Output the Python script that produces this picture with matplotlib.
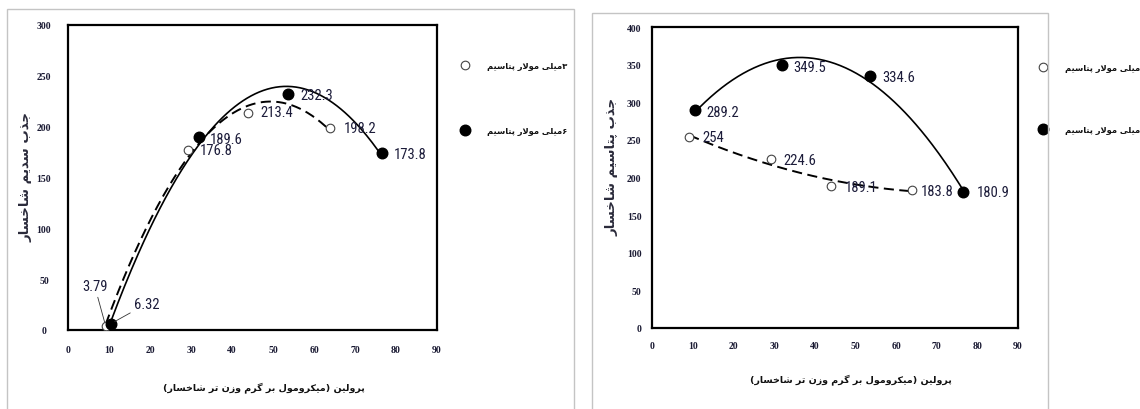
import numpy as np
import matplotlib
matplotlib.use("Agg")
import matplotlib.pyplot as plt
from matplotlib.lines import Line2D
from matplotlib.patches import Rectangle
from matplotlib import font_manager

# ---------------- data ----------------
proline_3mM = [9.2, 29.2, 44.0, 63.9]
proline_6mM = [10.5, 31.9, 53.6, 76.5]

sodium_3mM = [3.79, 176.8, 213.4, 198.2]
sodium_6mM = [6.32, 189.6, 232.3, 173.8]

potassium_3mM = [254, 224.6, 189.1, 183.8]
potassium_6mM = [289.2, 349.5, 334.6, 180.9]

x_ticks = [0, 10, 20, 30, 40, 50, 60, 70, 80, 90]
y_ticks_left = [0, 50, 100, 150, 200, 250, 300]
y_ticks_right = [0, 50, 100, 150, 200, 250, 300, 350, 400]

label_3mM = "۳میلی مولار پتاسیم"
label_6mM = "۶میلی مولار پتاسیم"
xlabel_text = "پرولین (میکرومول بر گرم وزن تر شاخسار)"
ylabel_left = "جذب سدیم شاخسار"
ylabel_right = "جذب پتاسیم شاخسار"

# ---------------- simple Persian shaping (matplotlib has no shaping) -------------
FORMS = {
    'ا': ('\uFE8D', '\uFE8E', None, None),
    'ب': ('\uFE8F', '\uFE90', '\uFE91', '\uFE92'),
    'پ': ('\uFB56', '\uFB57', '\uFB58', '\uFB59'),
    'ت': ('\uFE95', '\uFE96', '\uFE97', '\uFE98'),
    'ج': ('\uFE9D', '\uFE9E', '\uFE9F', '\uFEA0'),
    'خ': ('\uFEA5', '\uFEA6', '\uFEA7', '\uFEA8'),
    'د': ('\uFEA9', '\uFEAA', None, None),
    'ذ': ('\uFEAB', '\uFEAC', None, None),
    'ر': ('\uFEAD', '\uFEAE', None, None),
    'ز': ('\uFEAF', '\uFEB0', None, None),
    'س': ('\uFEB1', '\uFEB2', '\uFEB3', '\uFEB4'),
    'ش': ('\uFEB5', '\uFEB6', '\uFEB7', '\uFEB8'),
    'ل': ('\uFEDD', '\uFEDE', '\uFEDF', '\uFEE0'),
    'م': ('\uFEE1', '\uFEE2', '\uFEE3', '\uFEE4'),
    'ن': ('\uFEE5', '\uFEE6', '\uFEE7', '\uFEE8'),
    'و': ('\uFEED', '\uFEEE', None, None),
    'ه': ('\uFEE9', '\uFEEA', '\uFEEB', '\uFEEC'),
    'ی': ('\uFBFC', '\uFBFD', '\uFBFE', '\uFBFF'),
    'ک': ('\uFB8E', '\uFB8F', '\uFB90', '\uFB91'),
    'گ': ('\uFB92', '\uFB93', '\uFB94', '\uFB95'),
}
MIRROR = {'(': ')', ')': '('}


def shape_fa(text):
    out = []
    n = len(text)
    i = 0
    while i < n:
        c = text[i]
        if c not in FORMS:
            out.append(MIRROR.get(c, c))
            i += 1
            continue
        prev = text[i - 1] if i > 0 else ''
        prev_join = prev in FORMS and FORMS[prev][2] is not None
        if c == 'ل' and i + 1 < n and text[i + 1] == 'ا':
            out.append('\uFEFC' if prev_join else '\uFEFB')
            i += 2
            continue
        nxt = text[i + 1] if i + 1 < n else ''
        next_join = nxt in FORMS and FORMS[c][2] is not None
        iso, fin, ini, med = FORMS[c]
        if prev_join and next_join:
            out.append(med)
        elif prev_join:
            out.append(fin)
        elif next_join:
            out.append(ini)
        else:
            out.append(iso)
        i += 1
    return ''.join(reversed(out))


# ---------------- style ----------------
avail = {f.name for f in font_manager.fontManager.ttflist}
num_font, num_size = "DejaVu Sans", 9.5
for cand, sz in (("Liberation Sans Narrow", 11), ("Roboto Condensed", 10.5), ("Lato", 10)):
    if cand in avail:
        num_font, num_size = cand, sz
        break
tick_font = "Liberation Serif" if "Liberation Serif" in avail else "DejaVu Serif"
fa_font = ["DejaVu Sans"]

TXT = "#1c1c3a"
TICK = "#1a1a33"

fig = plt.figure(figsize=(11.4, 4.1), dpi=100)
fig.patch.set_facecolor("white")

# panel frames (gray boxes)
fig.add_artist(Rectangle((6.5 / 1140, -0.1), (574 - 6.5) / 1140, 1.1 - 10 / 410,
                         transform=fig.transFigure, fill=False, ec="#c4c4c4", lw=1.0))
fig.add_artist(Rectangle((592 / 1140, -0.1), 0.4, 1.1 - 14 / 410,
                         transform=fig.transFigure, fill=False, ec="#c4c4c4", lw=1.0))

axL = fig.add_axes([68 / 1140, (410 - 331) / 410, 369 / 1140, 305 / 410])
axR = fig.add_axes([652 / 1140, (410 - 329) / 410, 366 / 1140, 301 / 410])

left_offsets_3 = [(-11, 40), (29, 0), (28, 1), (30, 0)]
left_offsets_6 = [(36, 20), (27, -2), (29, -1), (29, -1)]
right_offsets_3 = [(24, 0), (29, -1), (30, -1), (25, -1)]
right_offsets_6 = [(28, -2), (28, -2), (29, -1), (30, 0)]


def draw_panel(ax, y3, y6, ymax, yticks, off3, off6, leaders, ylab, ylab_pos, xlab_pos,
               ytick_pad, ytick_ha, xtick_pad):
    x3 = np.array(proline_3mM)
    x6 = np.array(proline_6mM)
    # polynomial (order 2) trend lines
    c3 = np.polyfit(x3, y3, 2)
    c6 = np.polyfit(x6, y6, 2)
    xs3 = np.linspace(x3.min(), x3.max(), 200)
    xs6 = np.linspace(x6.min(), x6.max(), 200)
    ax.plot(xs3, np.polyval(c3, xs3), color="black", lw=1.4, ls=(0, (5.2, 2.8)), zorder=2)
    ax.plot(xs6, np.polyval(c6, xs6), color="black", lw=1.2, ls="-", zorder=2)

    ax.plot(x3, y3, ls="none", marker="o", ms=6.2, mfc="white", mec="#444444", mew=0.8, zorder=3)
    ax.plot(x6, y6, ls="none", marker="o", ms=7.6, mfc="black", mec="black", zorder=4)

    for xs, ys, offs, leads in ((x3, y3, off3, leaders[0]), (x6, y6, off6, leaders[1])):
        for xv, yv, off, lead in zip(xs, ys, offs, leads):
            kw = {}
            if lead:
                kw["arrowprops"] = dict(arrowstyle="-", lw=0.6, color="#333333",
                                        shrinkA=1, shrinkB=3)
            ax.annotate(f"{yv:g}", (xv, yv), xytext=off, textcoords="offset pixels",
                        ha="center", va="center", fontsize=num_size, family=num_font,
                        color=TXT, zorder=5, **kw)

    ax.set_xlim(0, 90)
    ax.set_ylim(0, ymax)
    ax.set_xticks(x_ticks)
    ax.set_yticks(yticks)
    ax.tick_params(length=0, labelsize=7, labelcolor=TICK)
    ax.tick_params(axis="y", pad=ytick_pad)
    ax.tick_params(axis="x", pad=xtick_pad)
    for t in ax.get_xticklabels() + ax.get_yticklabels():
        t.set_family(tick_font)
        t.set_fontweight("bold")
    for t in ax.get_yticklabels():
        t.set_ha(ytick_ha)
    for s in ax.spines.values():
        s.set_linewidth(1.6)
        s.set_color("black")

    ax.text(ylab_pos[0], ylab_pos[1], shape_fa(ylab), transform=ax.transAxes, rotation=90,
            ha="center", va="center", fontsize=9.5, family=fa_font, fontweight="bold",
            color="#2a2a3a")
    ax.text(xlab_pos[0], xlab_pos[1], shape_fa(xlabel_text), transform=ax.transAxes,
            ha="center", va="center", fontsize=6.8, family=fa_font, fontweight="bold",
            color="#111111")


draw_panel(axL, sodium_3mM, sodium_6mM, 300, y_ticks_left, left_offsets_3, left_offsets_6,
           ([True, False, False, False], [True, False, False, False]),
           ylabel_left, (-0.115, 0.505), (0.532, -0.184), 17.3, "center", 11)
draw_panel(axR, potassium_3mM, potassium_6mM, 400, y_ticks_right, right_offsets_3, right_offsets_6,
           ([False] * 4, [False] * 4),
           ylabel_right, (-0.109, 0.538), (0.544, -0.169), 7.5, "right", 9.5)

# legends
handles = [Line2D([], [], ls="none", marker="o", ms=6.2, mfc="white", mec="#444444", mew=0.8),
           Line2D([], [], ls="none", marker="o", ms=7.6, mfc="black", mec="black")]
labels = [shape_fa(label_3mM), shape_fa(label_6mM)]
for ax, (lx, ly, sp) in ((axL, (461, 62, 6.75)), (axR, (1039, 64, 6.4))):
    leg = ax.legend(handles, labels, loc="upper left",
                    bbox_to_anchor=(lx / 1140, 1 - ly / 410), bbox_transform=fig.transFigure,
                    frameon=False, borderpad=0, borderaxespad=0, handlelength=1.0,
                    handletextpad=2.1, labelspacing=sp,
                    prop=dict(family=fa_font, size=6, weight="bold"))
    for t in leg.get_texts():
        t.set_color("#111111")

fig.savefig("out.png", dpi=100, facecolor="white")
